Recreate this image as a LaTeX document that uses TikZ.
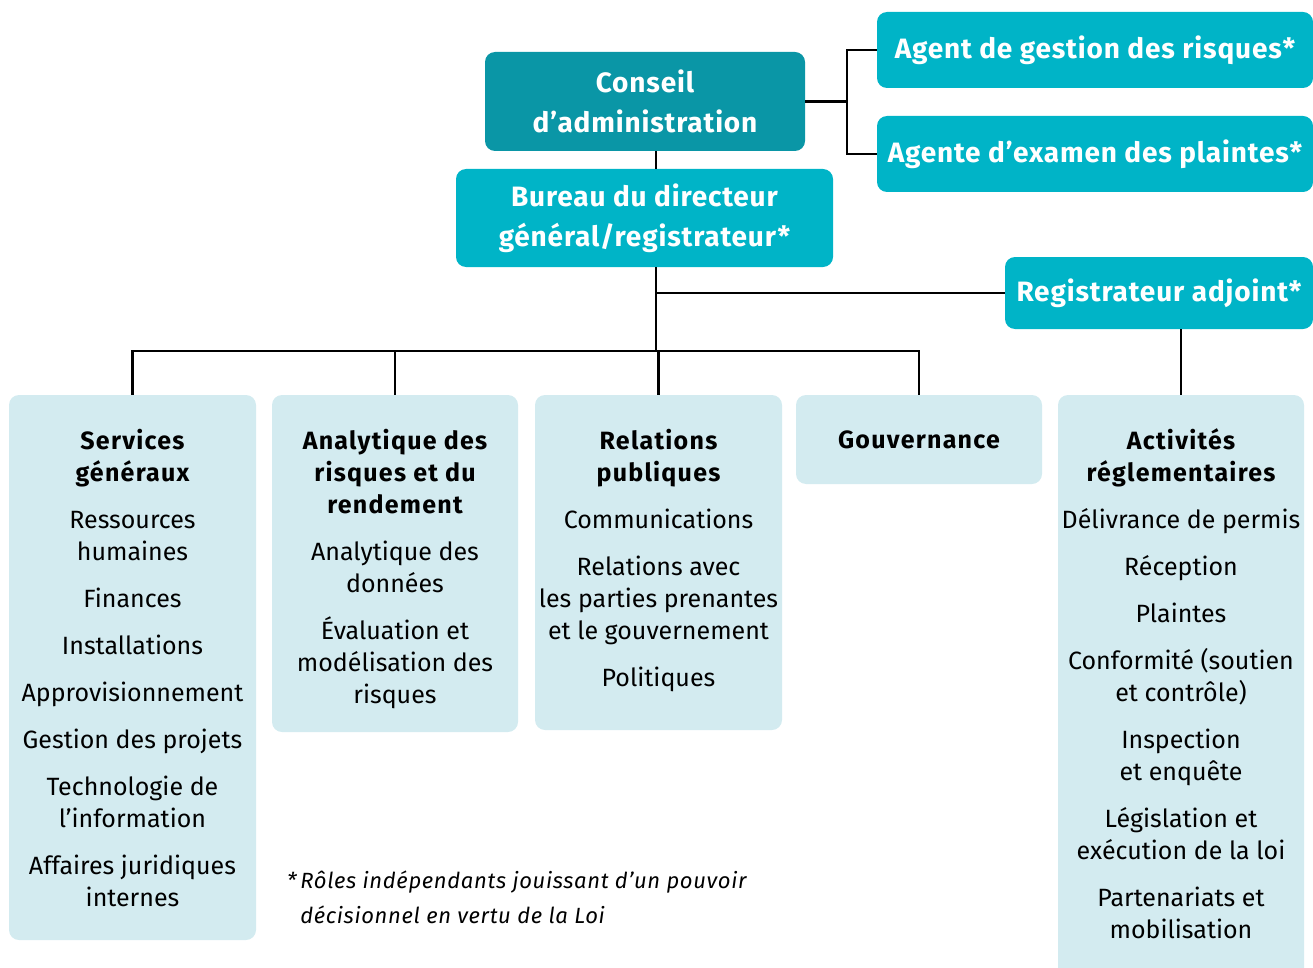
\documentclass[tikz,border=0pt]{standalone}
\usepackage{fontspec}
\setmainfont{Fira Sans}
\usetikzlibrary{positioning}
\definecolor{boardteal}{RGB}{10,150,166}
\definecolor{boxteal}{RGB}{0,180,199}
\definecolor{paleblue}{RGB}{211,235,240}
\newcommand{\unithead}[1]{{\bfseries\addfontfeature{LetterSpace=5}#1}}
\tikzset{
 headbox/.style={fill=boxteal, rounded corners=10pt, text=white, inner sep=0pt,
   font=\fontsize{28}{40}\selectfont\bfseries\addfontfeature{LetterSpace=3}, align=center},
 unitbox/.style={fill=paleblue, rounded corners=10pt, inner sep=0pt},
 unittext/.style={font=\fontsize{25}{32}\selectfont, align=center, anchor=north, inner sep=0pt},
 link/.style={line width=2.6pt}
}
\begin{document}
\begin{tikzpicture}[x=1pt,y=-1pt]
 \useasboundingbox (0,0) rectangle (1313,968);
 % top of the chart
 \node[headbox, fill=boardteal, minimum width=320pt, minimum height=99pt] (conseil) at (645,101.5) {Conseil\\d’administration};
 \node[headbox, minimum width=377pt, minimum height=98pt] (bureau) at (644.5,218) {Bureau du directeur\\général/registrateur*};
 \node[headbox, minimum width=436pt, minimum height=76pt] (agent) at (1095,50) {Agent de gestion des risques*};
 \node[headbox, minimum width=436pt, minimum height=76pt] (agente) at (1095,154) {Agente d’examen des plaintes*};
 \node[headbox, minimum width=308pt, minimum height=72pt] (adjoint) at (1159,293) {Registrateur adjoint*};
 % units
 \node[unitbox, minimum width=247pt, minimum height=545pt] (svcbox) at (132.5,667.5) {};
 \node[unitbox, minimum width=246pt, minimum height=337pt] (anabox) at (395,563.5) {};
 \node[unitbox, minimum width=247pt, minimum height=335pt] (relbox) at (658.5,562.5) {};
 \node[unitbox, minimum width=246pt, minimum height=89pt] (govbox) at (919,439.5) {};
 \node[unitbox, minimum width=246pt, minimum height=600pt] (actbox) at (1181,695) {};
 \node[unittext, yshift=-34pt] (svc) at (svcbox.north) {\unithead{Services}\\\unithead{généraux}\\[15pt]
   Ressources\\humaines\\[15pt]Finances\\[15pt]Installations\\[15pt]Approvisionnement\\[15pt]
   Gestion des projets\\[15pt]Technologie de\\l’information\\[15pt]Affaires juridiques\\internes};
 \node[unittext, yshift=-34pt] (ana) at (anabox.north) {\unithead{Analytique des}\\\unithead{risques et du}\\\unithead{rendement}\\[15pt]
   Analytique des\\données\\[15pt]Évaluation et\\modélisation des\\risques};
 \node[unittext, yshift=-34pt] (rel) at (relbox.north) {\unithead{Relations}\\\unithead{publiques}\\[15pt]
   Communications\\[15pt]Relations avec\\les parties prenantes\\et le gouvernement\\[15pt]Politiques};
 \node[unittext, yshift=-36pt] (gov) at (govbox.north) {\unithead{Gouvernance}};
 \node[unittext, yshift=-34pt] (act) at (actbox.north) {\unithead{Activités}\\\unithead{réglementaires}\\[15pt]
   Délivrance de permis\\[15pt]Réception\\[15pt]Plaintes\\[15pt]Conformité (soutien\\et contrôle)\\[15pt]
   Inspection\\et enquête\\[15pt]Législation et\\exécution de la loi\\[15pt]Partenariats et\\mobilisation};
 \node[anchor=north west, align=left, inner sep=0pt,
   font=\fontsize{22}{35}\selectfont\itshape\addfontfeature{LetterSpace=3}] (note) at (287,871)
   {*\,Rôles indépendants jouissant d’un pouvoir\\\phantom{*\,}décisionnel en vertu de la Loi};
 % connectors
 \coordinate (split) at (847,101.5);
 \coordinate (spine) at (656,351);
 \draw[link] (conseil.east) -- (split);
 \draw[link] (split) |- (agent.west);
 \draw[link] (split) |- (agente.west);
 \draw[link] (conseil.south -| spine) -- (bureau.north -| spine);
 \draw[link] (bureau.south -| spine) -- (spine);
 \draw[link] (adjoint.west -| spine) -- (adjoint.west);
 \draw[link] (svcbox.north) |- (govbox.north |- spine) -- (govbox.north);
 \draw[link] (anabox.north) -- (anabox.north |- spine);
 \draw[link] (relbox.north) -- (relbox.north |- spine);
 \draw[link] (actbox.north) -- (actbox.north |- adjoint.south);
\end{tikzpicture}
\end{document}
